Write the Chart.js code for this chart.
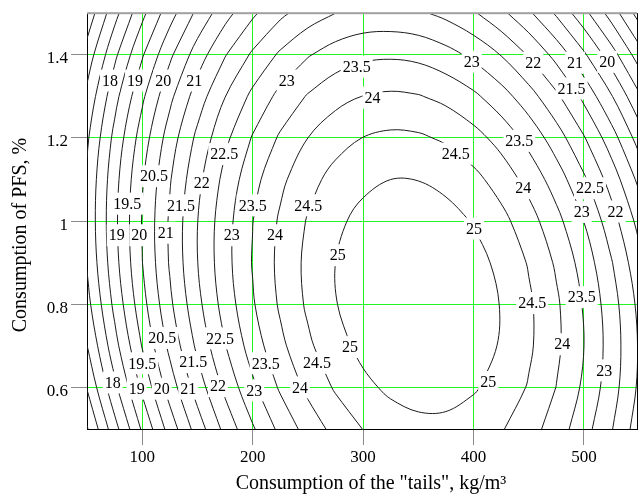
<!DOCTYPE html>
<html>
<head>
<meta charset="utf-8">
<script src="https://cdn.jsdelivr.net/npm/chart.js@4.4.1/dist/chart.umd.min.js"></script>
<style>
  html, body { margin: 0; padding: 0; background: #fff; }
  #chart { display: block; }
</style>
</head>
<body>
<canvas id="chart" width="642" height="497"></canvas>
<script>
// grid of the response surface
const xGrid = [50, 75, 100, 125, 150, 175, 200, 225, 250, 275, 300, 325, 350, 375, 400, 425, 450, 475, 500, 525, 550];
const yGrid = [0.5, 0.6, 0.7, 0.8, 0.9, 1.0, 1.1, 1.2, 1.3, 1.4, 1.5];
// one row per yGrid value, one column per xGrid value
const zRows = [
  [15.95, 17.31, 18.57, 19.71, 20.73, 21.65, 22.44, 23.13, 23.70, 24.16, 24.51, 24.74, 24.86, 24.87, 24.76, 24.54, 24.21, 23.76, 23.20, 22.53, 21.74],
  [16.53, 17.88, 19.11, 20.23, 21.23, 22.12, 22.90, 23.57, 24.12, 24.56, 24.88, 25.10, 25.20, 25.18, 25.05, 24.81, 24.46, 23.99, 23.41, 22.72, 21.91],
  [16.99, 18.32, 19.53, 20.63, 21.61, 22.48, 23.24, 23.88, 24.41, 24.83, 25.14, 25.33, 25.41, 25.37, 25.22, 24.96, 24.58, 24.10, 23.50, 22.78, 21.95],
  [17.33, 18.63, 19.82, 20.90, 21.86, 22.71, 23.45, 24.07, 24.58, 24.98, 25.26, 25.43, 25.49, 25.43, 25.26, 24.98, 24.58, 24.08, 23.45, 22.72, 21.87],
  [17.54, 18.82, 19.99, 21.05, 21.99, 22.82, 23.53, 24.13, 24.62, 25.00, 25.26, 25.41, 25.45, 25.37, 25.18, 24.88, 24.46, 23.93, 23.29, 22.53, 21.66],
  [17.62, 18.88, 20.03, 21.07, 21.99, 22.80, 23.49, 24.07, 24.54, 24.90, 25.14, 25.27, 25.28, 25.18, 24.97, 24.65, 24.21, 23.66, 22.99, 22.22, 21.33],
  [17.58, 18.82, 19.95, 20.96, 21.86, 22.65, 23.33, 23.89, 24.33, 24.67, 24.89, 25.00, 24.99, 24.87, 24.64, 24.29, 23.83, 23.26, 22.58, 21.78, 20.87],
  [17.42, 18.64, 19.74, 20.74, 21.62, 22.38, 23.04, 23.57, 24.00, 24.31, 24.51, 24.60, 24.57, 24.43, 24.18, 23.82, 23.34, 22.74, 22.04, 21.22, 20.28],
  [17.13, 18.33, 19.41, 20.38, 21.24, 21.99, 22.62, 23.14, 23.54, 23.84, 24.01, 24.08, 24.03, 23.87, 23.60, 23.21, 22.71, 22.10, 21.37, 20.53, 19.58],
  [16.71, 17.89, 18.95, 19.90, 20.74, 21.47, 22.08, 22.58, 22.96, 23.23, 23.39, 23.43, 23.37, 23.18, 22.89, 22.48, 21.96, 21.33, 20.58, 19.72, 18.74],
  [16.17, 17.33, 18.37, 19.30, 20.12, 20.82, 21.41, 21.89, 22.25, 22.50, 22.64, 22.66, 22.58, 22.37, 22.06, 21.63, 21.09, 20.43, 19.66, 18.78, 17.78]
];
const levels = [16, 16.5, 17, 17.5, 18, 18.5, 19, 19.5, 20, 20.5, 21, 21.5, 22, 22.5, 23, 23.5, 24, 24.5, 25];

const xTicks = [100, 200, 300, 400, 500];
const xTickLabels = ['100', '200', '300', '400', '500'];
const yTicks = [0.6, 0.8, 1, 1.2, 1.4];
const yTickLabels = ['0.6', '0.8', '1', '1.2', '1.4'];

// contour labels as placed in the picture
const labelText = ['18', '19', '20', '21', '23', '22.5', '20.5', '22', '19.5', '21.5', '23.5', '24.5', '19', '20', '21', '23', '24', '25',
  '20.5', '22.5', '19.5', '21.5', '23.5', '24.5', '25', '18', '19', '20', '21', '22', '23', '24', '25', '25', '24.5', '23.5', '24', '23',
  '23.5', '24', '23', '22', '21', '20', '21.5', '23.5', '24.5', '24', '22.5', '23', '22'];
const labelX = [70.8, 93.5, 119.1, 147.1, 230.8, 174.3, 110.7, 153.8, 86.5, 135.1, 200.0, 250.3, 76.9, 97.3, 121.2, 181.0, 220.2, 277.1,
  118.2, 170.4, 100.1, 146.2, 211.8, 258.2, 288.1, 73.3, 95.0, 117.6, 141.7, 168.6, 201.5, 242.8, 413.3, 400.5, 453.1, 497.9, 480.3, 518.3,
  294.2, 308.6, 398.3, 454.0, 491.8, 521.0, 488.8, 441.4, 383.8, 445.0, 505.4, 497.9, 528.6];
const labelY = [1.338, 1.338, 1.338, 1.338, 1.338, 1.161, 1.108, 1.091, 1.042, 1.038, 1.038, 1.038, 0.966, 0.966, 0.972, 0.966, 0.966, 0.918,
  0.719, 0.718, 0.658, 0.661, 0.658, 0.659, 0.697, 0.612, 0.597, 0.597, 0.597, 0.603, 0.593, 0.600, 0.613, 0.982, 0.803, 0.817, 0.704, 0.641,
  1.371, 1.297, 1.383, 1.381, 1.381, 1.383, 1.319, 1.193, 1.162, 1.079, 1.079, 1.022, 1.023];

const xTitle = 'Consumption of the "tails", kg/m\u00b3';
const yTitle = 'Consumption of PFS, %';

const SERIF = '"Liberation Serif", "Times New Roman", serif';
const GREEN = '#22f522';
const LINE = '#1c1c1c';
const PX_X = 550 / 498, PX_Y = 420; // rough pixels per unit, only used to thin points

Chart.defaults.font.family = SERIF;

// marching squares over zRows, edges keyed 'h i,j' (along x) and 'v i,j' (along y)
function edgePoint(level) {
  return key => {
    const [i, j] = key.slice(1).split(',').map(Number);
    const i2 = key[0] === 'h' ? i + 1 : i, j2 = key[0] === 'h' ? j : j + 1;
    const z1 = zRows[j][i], z2 = zRows[j2][i2];
    const t = (level - z1) / (z2 - z1);
    return { x: xGrid[i] + t * (xGrid[i2] - xGrid[i]), y: yGrid[j] + t * (yGrid[j2] - yGrid[j]) };
  };
}

function contourPaths(level) {
  const segs = [];
  for (let j = 0; j < yGrid.length - 1; j++) {
    for (let i = 0; i < xGrid.length - 1; i++) {
      const a = zRows[j][i] >= level, b = zRows[j][i + 1] >= level;
      const c = zRows[j + 1][i + 1] >= level, d = zRows[j + 1][i] >= level;
      const cut = [];
      if (a !== b) cut.push('h' + i + ',' + j);
      if (b !== c) cut.push('v' + (i + 1) + ',' + j);
      if (d !== c) cut.push('h' + i + ',' + (j + 1));
      if (a !== d) cut.push('v' + i + ',' + j);
      if (cut.length === 2) segs.push(cut);
      else if (cut.length === 4) {
        const mid = (zRows[j][i] + zRows[j][i + 1] + zRows[j + 1][i + 1] + zRows[j + 1][i]) / 4 >= level;
        if (mid === a) segs.push([cut[0], cut[1]], [cut[2], cut[3]]);
        else segs.push([cut[0], cut[3]], [cut[1], cut[2]]);
      }
    }
  }
  const byEdge = {};
  segs.forEach((s, k) => s.forEach(e => (byEdge[e] = byEdge[e] || []).push(k)));
  const used = segs.map(() => false);
  const walk = (k, edge) => {
    const keys = [edge];
    while (k !== undefined && !used[k]) {
      used[k] = true;
      edge = segs[k][0] === edge ? segs[k][1] : segs[k][0];
      keys.push(edge);
      k = byEdge[edge].find(m => !used[m]);
    }
    return keys;
  };
  const paths = [];
  Object.keys(byEdge).forEach(e => {
    if (byEdge[e].length === 1 && !used[byEdge[e][0]]) paths.push({ keys: walk(byEdge[e][0], e), closed: false });
  });
  segs.forEach((s, k) => { if (!used[k]) paths.push({ keys: walk(k, s[0]), closed: true }); });

  const toPt = edgePoint(level);
  return paths.map(p => {
    let pts = [];
    p.keys.map(toPt).forEach(q => {
      const last = pts[pts.length - 1];
      if (!last || Math.hypot((q.x - last.x) * PX_X, (q.y - last.y) * PX_Y) > 2) pts.push(q);
    });
    if (p.closed) {
      // start the loop under one of its labels so the seam is hidden
      if (Math.hypot((pts[0].x - pts[pts.length - 1].x) * PX_X, (pts[0].y - pts[pts.length - 1].y) * PX_Y) < 3) pts.pop();
      let best = 0, bestD = Infinity;
      pts.forEach((q, n) => {
        labelText.forEach((t, k) => {
          if (Number(t) !== level) return;
          const dd = Math.hypot((q.x - labelX[k]) * PX_X, (q.y - labelY[k]) * PX_Y);
          if (dd < bestD) { bestD = dd; best = n; }
        });
      });
      pts = pts.slice(best).concat(pts.slice(0, best));
      pts.push(pts[0]);
    }
    return pts;
  });
}

const datasets = [];
levels.forEach(level => {
  contourPaths(level).forEach(pts => {
    datasets.push({
      data: pts,
      showLine: true,
      borderColor: LINE,
      borderWidth: 1,
      pointRadius: 0,
      tension: 0.35,
      fill: false
    });
  });
});

const contourLabels = {
  id: 'contourLabels',
  afterDatasetsDraw(chart) {
    const { ctx, scales: { x, y } } = chart;
    ctx.save();
    ctx.font = '16px ' + SERIF;
    ctx.textAlign = 'center';
    ctx.textBaseline = 'middle';
    const boxes = labelText.map((t, k) => ({
      t, px: x.getPixelForValue(labelX[k]), py: y.getPixelForValue(labelY[k]), w: ctx.measureText(t).width + 4
    }));
    ctx.fillStyle = '#fff';
    boxes.forEach(b => ctx.fillRect(b.px - b.w / 2, b.py - 11, b.w, 22));
    ctx.fillStyle = '#000';
    boxes.forEach(b => ctx.fillText(b.t, b.px, b.py + 1));
    ctx.restore();
  }
};

const frameAndTitles = {
  id: 'frameAndTitles',
  afterDraw(chart) {
    const { ctx, chartArea: a } = chart;
    ctx.save();
    ctx.fillStyle = '#a0a0a0';
    ctx.fillRect(a.left, a.top - 1, a.right - a.left, 2);
    ctx.strokeStyle = '#000';
    ctx.lineWidth = 1;
    ctx.beginPath();
    ctx.moveTo(a.right + 0.5, a.top);
    ctx.lineTo(a.right + 0.5, a.bottom);
    ctx.stroke();
    ctx.fillStyle = '#000';
    ctx.font = '20px ' + SERIF;
    ctx.textAlign = 'center';
    ctx.textBaseline = 'middle';
    ctx.fillText(xTitle, 371, 484);
    ctx.translate(21, 235);
    ctx.rotate(-Math.PI / 2);
    ctx.fillText(yTitle, 0, 0);
    ctx.restore();
  }
};

new Chart(document.getElementById('chart'), {
  type: 'scatter',
  data: { datasets },
  options: {
    responsive: false,
    animation: false,
    events: [],
    layout: { padding: { left: 0, right: 5, top: 9, bottom: 0 } },
    elements: { line: { capBezierPoints: false } },
    plugins: { legend: { display: false }, tooltip: { enabled: false } },
    scales: {
      x: {
        type: 'linear',
        min: 50,
        max: 548,
        afterBuildTicks: s => { s.ticks = xTicks.map(v => ({ value: v })); },
        afterFit: s => { s.height = 68; },
        grid: { color: GREEN, lineWidth: 1, tickColor: '#8a8a8a', tickLength: 16, tickWidth: 1 },
        border: { color: '#000', width: 1 },
        ticks: { color: '#000', font: { size: 17 }, padding: 2, maxRotation: 0, callback: (v, i) => xTickLabels[i] }
      },
      y: {
        type: 'linear',
        min: 0.5,
        max: 1.5,
        afterBuildTicks: s => { s.ticks = yTicks.map(v => ({ value: v })); },
        afterFit: s => { s.width = 87; },
        grid: { color: GREEN, lineWidth: 1, tickColor: '#8a8a8a', tickLength: 16, tickWidth: 1 },
        border: { color: '#000', width: 1 },
        ticks: { color: '#000', font: { size: 17 }, padding: 3, labelOffset: 4, callback: (v, i) => yTickLabels[i] }
      }
    }
  },
  plugins: [contourLabels, frameAndTitles]
});
</script>
</body>
</html>
